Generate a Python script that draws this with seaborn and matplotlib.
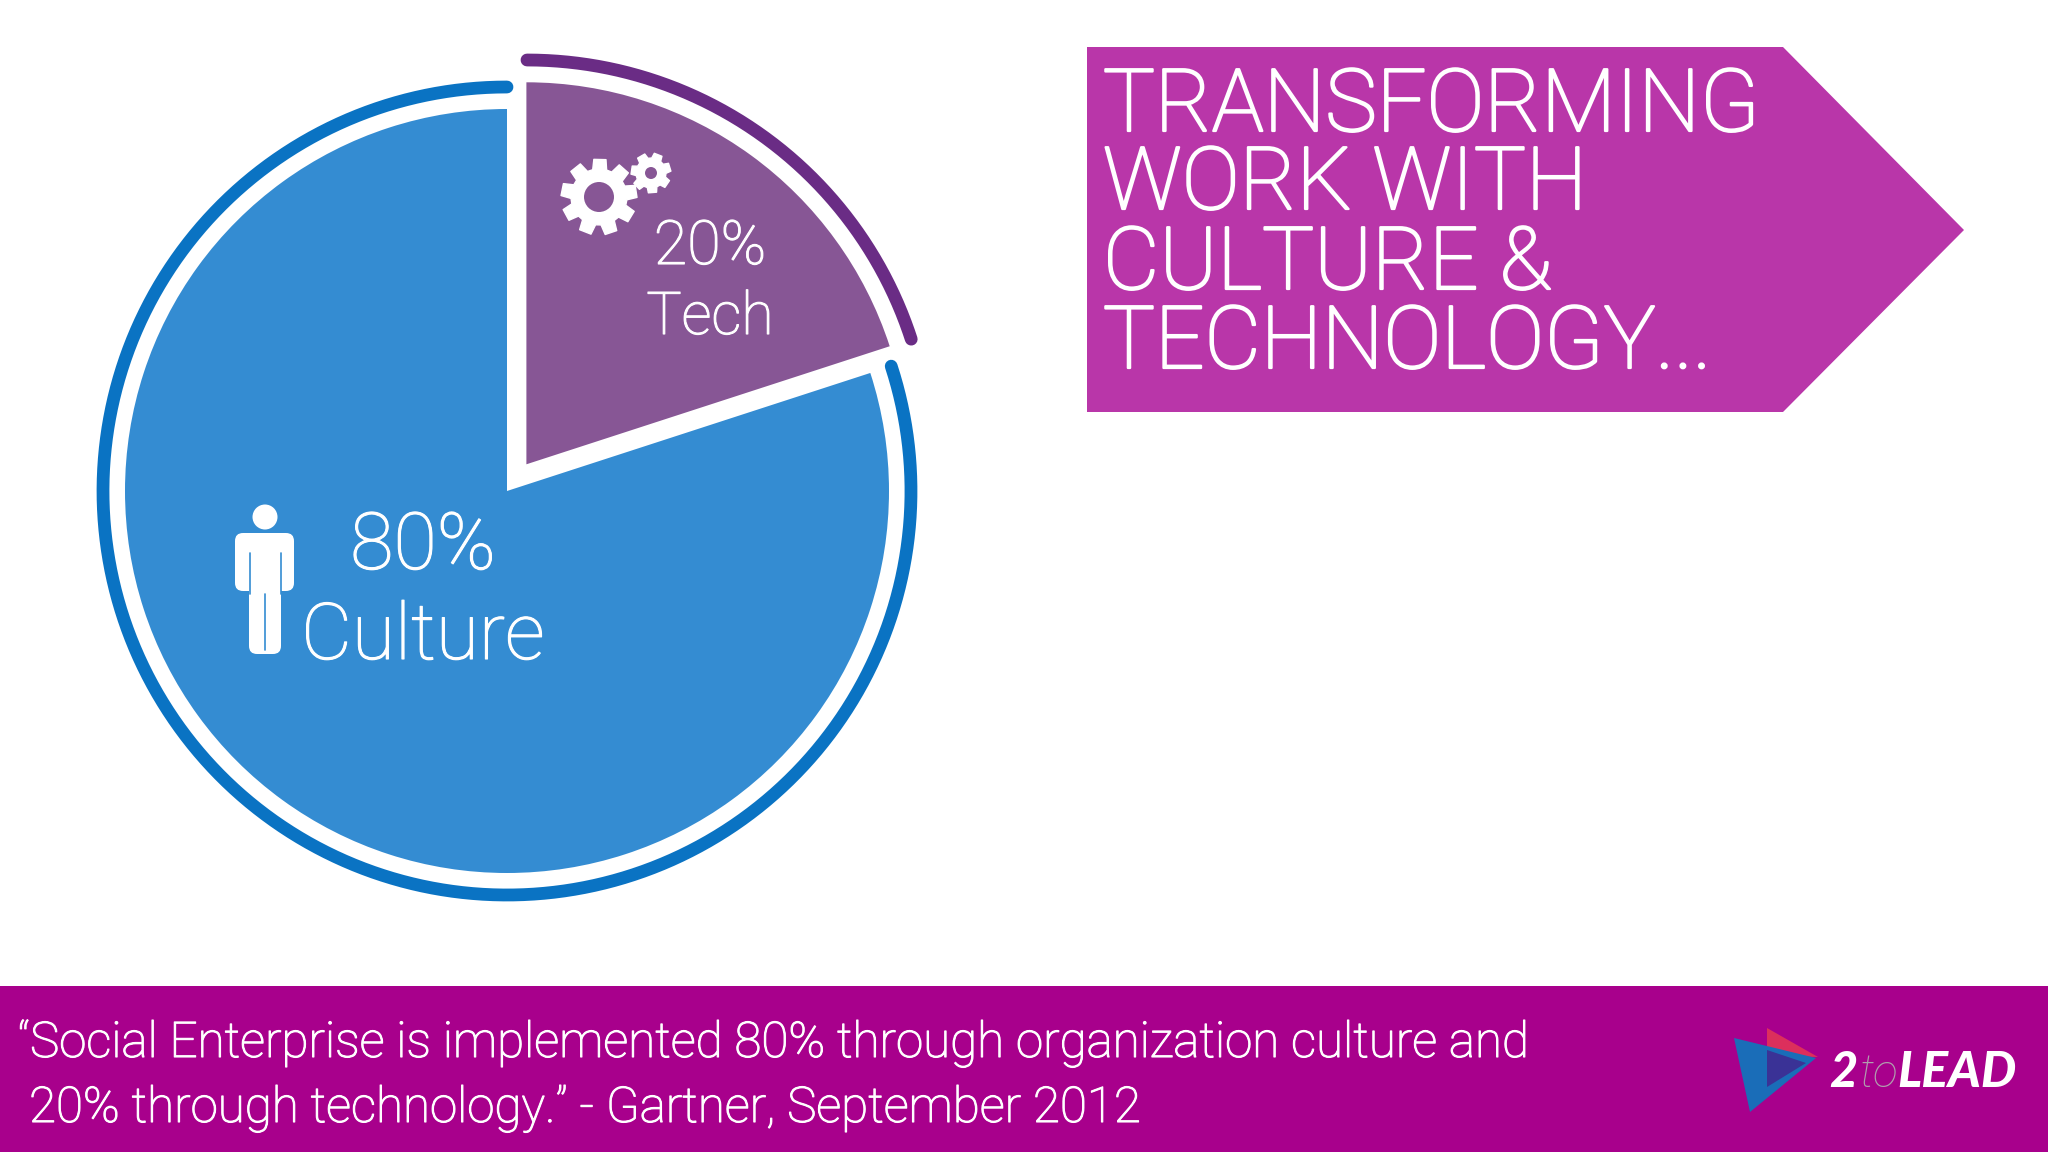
import numpy as np
import seaborn as sns
import matplotlib.pyplot as plt
import matplotlib.patheffects as pe
from matplotlib.patches import Circle, FancyBboxPatch, Polygon

# slide values
segments = ["Tech", "Culture"]
shares = [20, 80]
pct_labels = ["20%", "80%"]
banner_lines = ["TRANSFORMING", "WORK WITH", "CULTURE &", "TECHNOLOGY..."]
footer_lines = [
    "\u201cSocial Enterprise is implemented 80% through organization culture and",
    "20% through technology.\u201d - Gartner, September 2012",
]

W, H = 2048, 1152
FONT = "Roboto"
TECH_FILL, CULTURE_FILL = "#875695", "#348CD2"
TECH_RING, CULTURE_RING = "#6A2C85", "#0A73C3"
BANNER = "#B936A9"
FOOTER = "#A8008C"


def fy(y):
    # picture rows run downwards, the axes upwards
    return H - y


def draw_ring(ax, center, radius, start, end, color):
    theta = np.radians(np.linspace(start, end, 200))
    ax.plot(center[0] + radius * np.cos(theta), fy(center[1]) + radius * np.sin(theta),
            color=color, lw=9.2, solid_capstyle="round", zorder=3)


def draw_gear(ax, cx, cy, r_out, r_in, r_hole, teeth, fill, phase=0.0):
    pts = []
    step = 2 * np.pi / teeth
    for i in range(teeth):
        a = phase + i * step
        for off, r in [(-0.36, r_in), (-0.23, r_out), (0.23, r_out), (0.36, r_in)]:
            pts.append((cx + r * np.cos(a + off * step), fy(cy) + r * np.sin(a + off * step)))
    ax.add_patch(Polygon(pts, closed=True, fc="white", ec="white", lw=1, joinstyle="round", zorder=4))
    ax.add_patch(Circle((cx, fy(cy)), r_hole, fc=fill, ec="none", zorder=5))


def draw_person(ax, fill):
    ax.add_patch(Circle((265, fy(517)), 12.5, fc="white", ec="none", zorder=4))
    box = "round,pad=0,rounding_size=8"
    ax.add_patch(FancyBboxPatch((235, fy(591)), 59, 58, boxstyle=box, fc="white", ec="none", zorder=4))
    ax.add_patch(FancyBboxPatch((249, fy(654)), 32, 90, boxstyle=box, fc="white", ec="none", zorder=4))
    ax.plot([249.5, 249.5], [fy(553), fy(594)], color=fill, lw=1.2, zorder=5)
    ax.plot([280.5, 280.5], [fy(553), fy(594)], color=fill, lw=1.2, zorder=5)
    ax.plot([265, 265], [fy(594), fy(650)], color=fill, lw=1.2, zorder=5)


def draw_logo(ax):
    ax.add_patch(Polygon([(1767, fy(1028)), (1818, fy(1057)), (1767, fy(1056))], fc="#DC2F5C", ec="none", zorder=4))
    ax.add_patch(Polygon([(1734, fy(1038)), (1750, fy(1112)), (1816, fy(1058))], fc="#1A6DB8", ec="none", zorder=4))
    ax.add_patch(Polygon([(1767, fy(1050)), (1806, fy(1063)), (1767, fy(1087))], fc="#3A3296", ec="none", zorder=5))
    ax.text(1829, fy(1087), "2", color="white", fontsize=35, fontweight="black", style="italic", family="Lato", va="baseline")
    ax.text(1860, fy(1087), "to", color="#B09FAE", fontsize=33, fontweight="light", style="italic", va="baseline")
    ax.text(1897, fy(1087), "LEAD", color="white", fontsize=36, fontweight="black", style="italic", family="Lato", va="baseline")


def main():
    sns.set_theme(style="white")
    plt.rcParams["font.family"] = [FONT, "DejaVu Sans"]
    palette = sns.color_palette([TECH_FILL, CULTURE_FILL])

    fig = plt.figure(figsize=(W / 100, H / 100), dpi=100, facecolor="white")
    ax = fig.add_axes([0, 0, 1, 1])

    # exploded pie, clockwise from twelve o'clock
    center = (507, 491)
    ax.pie(shares, colors=palette, explode=[33, 0], center=(center[0], fy(center[1])),
           radius=382, startangle=90, counterclock=False, frame=True,
           wedgeprops={"linewidth": 0})

    # outer rings follow the same shares
    split = 90 - 360 * shares[0] / sum(shares)
    draw_ring(ax, (527, 464), 404, 90, split, TECH_RING)
    draw_ring(ax, center, 404, 90, 360 + split, CULTURE_RING)

    draw_gear(ax, 599, 197, 38, 28, 15, 9, TECH_FILL, phase=0.15)
    draw_gear(ax, 651, 173, 20, 15, 6, 7, TECH_FILL, phase=0.3)
    draw_person(ax, CULTURE_FILL)

    # the reference face is a little heavier than Roboto Light
    heavier = [pe.withStroke(linewidth=0.8, foreground="white")]
    light = {"color": "white", "fontweight": "light", "va": "baseline", "path_effects": heavier}

    ax.text(710, fy(264), pct_labels[0], fontsize=44, ha="center", **light)
    ax.text(710, fy(334), segments[0], fontsize=42.5, ha="center", **light)
    ax.text(423, fy(569), pct_labels[1], fontsize=57, ha="center", **light)
    ax.text(423, fy(659), segments[1], fontsize=56.5, ha="center", **light)

    # banner arrow
    ax.add_patch(Polygon([(1087, fy(47)), (1783, fy(47)), (1964, fy(230)), (1783, fy(412)), (1087, fy(412))],
                         fc=BANNER, ec="none"))
    for line, base in zip(banner_lines, [131, 209, 289, 368]):
        ax.text(1103, fy(base), line, fontsize=62.6, color="white", fontweight="light", va="baseline",
                path_effects=[pe.withStroke(linewidth=1.6, foreground="white")])

    # footer strip
    ax.axhspan(0, fy(986), color=FOOTER, lw=0)
    ax.text(18, fy(1057), footer_lines[0], fontsize=35.5, **light)
    ax.text(29, fy(1122), footer_lines[1], fontsize=35.5, **light)
    draw_logo(ax)

    ax.set_xlim(0, W)
    ax.set_ylim(0, H)
    ax.axis("off")
    fig.savefig("out.png", dpi=100)
    plt.close(fig)


if __name__ == "__main__":
    main()
